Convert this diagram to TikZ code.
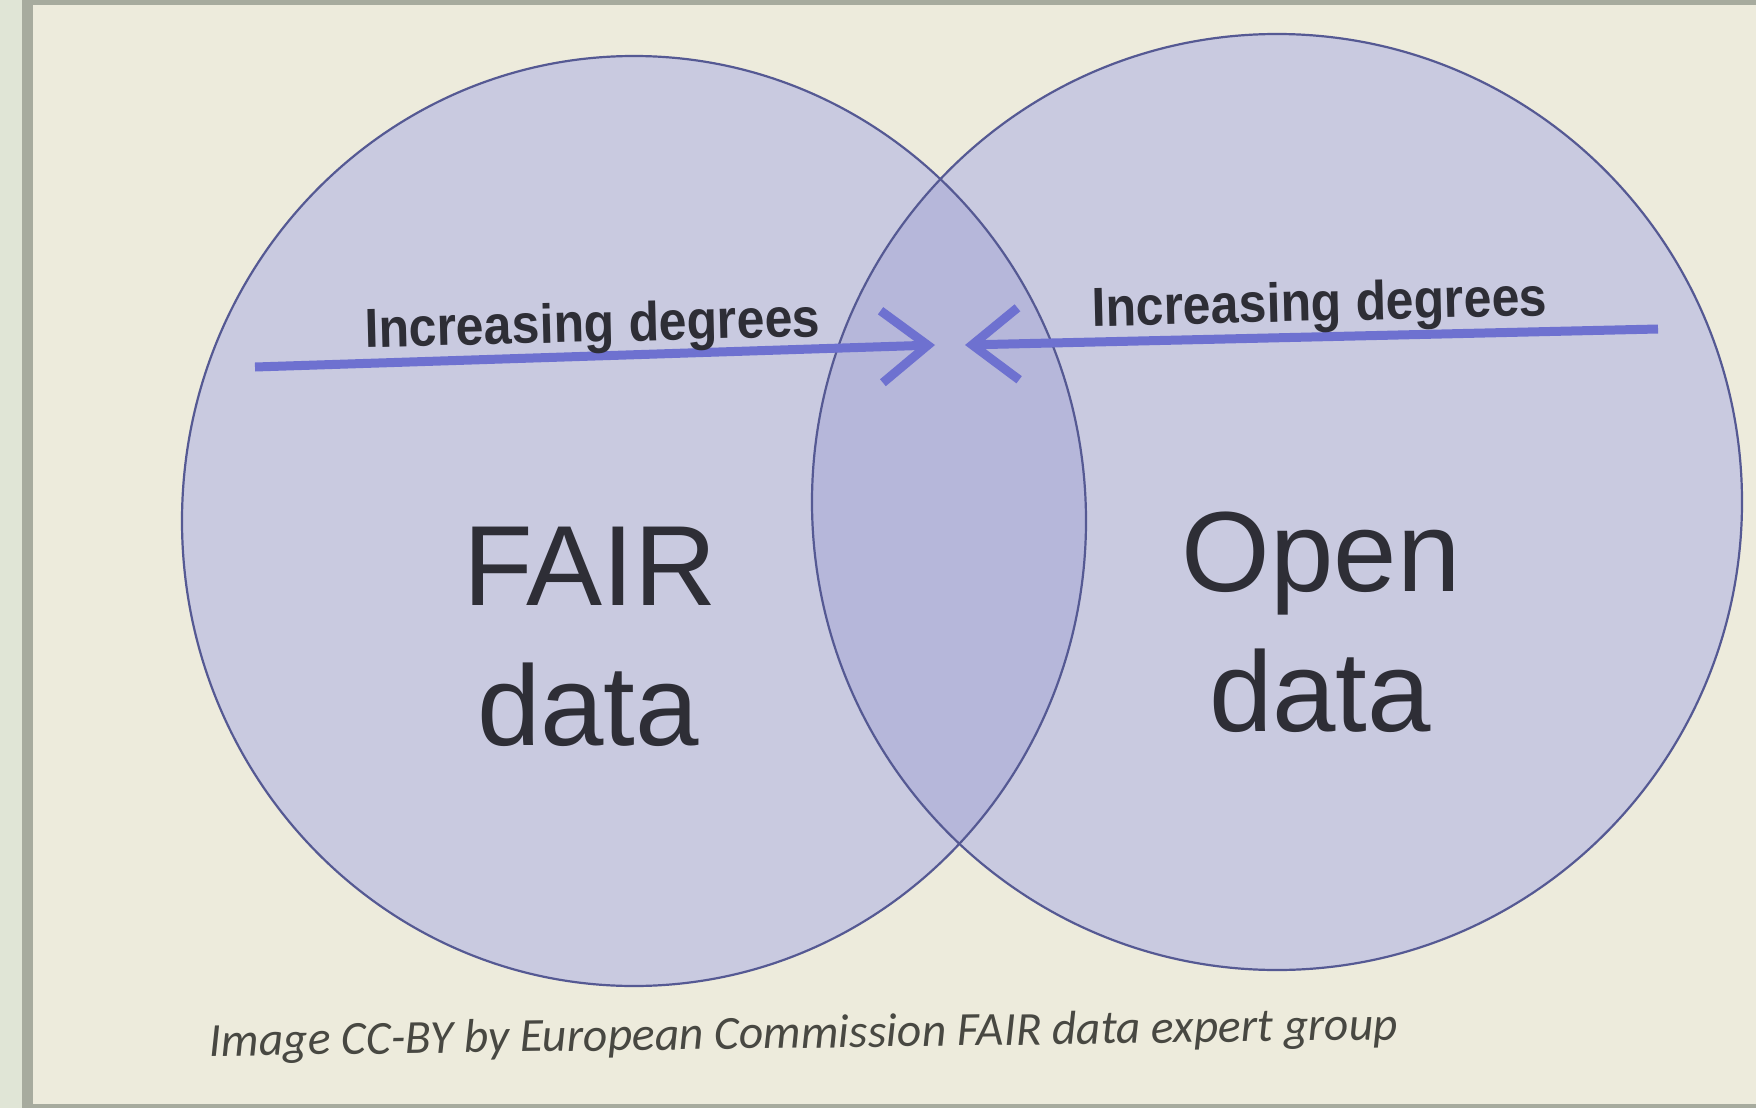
\documentclass[tikz,border=0pt]{standalone}
\usepackage{fontspec}
\setmainfont{Liberation Sans}
\newfontfamily\capfont{Carlito}
\usetikzlibrary{arrows.meta}
\definecolor{bgcream}{HTML}{EDEBDC}
\definecolor{framegray}{HTML}{A7AB9E}
\definecolor{stripl}{HTML}{E0E5D6}
\definecolor{circfill}{HTML}{C9CAE0}
\definecolor{overfill}{HTML}{B6B7DA}
\definecolor{circedge}{HTML}{555993}
\definecolor{arrowblue}{HTML}{6E71D0}
\definecolor{txt}{HTML}{2E2E36}
\definecolor{captxt}{HTML}{484842}
\tikzset{
  ring/.style={draw=circedge, line width=2.2pt},
  degarrow/.style={draw=arrowblue, line width=9pt, -{Straight Barb[length=46pt,width=72pt]}},
  biglabel/.style={text=txt, font=\fontsize{114}{114}\selectfont, anchor=base, inner sep=0pt},
  deglabel/.style={text=txt, font=\fontsize{51}{51}\selectfont\bfseries, anchor=base, inner sep=0pt},
  caplabel/.style={text=captxt, font=\capfont\itshape\fontsize{47.5}{47.5}\selectfont, anchor=base, inner sep=0pt}
}
\begin{document}
\begin{tikzpicture}[x=1pt,y=-1pt]
\useasboundingbox (0,0) rectangle (1756,1108);
\fill[framegray] (0,0) rectangle (1756,1108);
\fill[stripl] (0,0) rectangle (22,1108);
\fill[bgcream] (33,5) rectangle (1756,1104);
\coordinate (cL) at (634,521);
\coordinate (cR) at (1277,502);
\fill[circfill] (cL) ellipse [x radius=452pt, y radius=465pt];
\fill[circfill] (cR) ellipse [x radius=465pt, y radius=468pt];
\begin{scope}
  \clip (cL) ellipse [x radius=452pt, y radius=465pt];
  \fill[overfill] (cR) ellipse [x radius=465pt, y radius=468pt];
\end{scope}
\path[ring] (cL) ellipse [x radius=452pt, y radius=465pt];
\path[ring] (cR) ellipse [x radius=465pt, y radius=468pt];
% arrows
\coordinate (aLs) at (255,367);
\coordinate (aLe) at (935,345);
\coordinate (aRs) at (1658,329);
\coordinate (aRe) at (965,345);
\path[degarrow] (aLs) -- (aLe);
\path[degarrow] (aRs) -- (aRe);
% labels
\node[deglabel, rotate=1.4] (degL) at (593,342) {\scalebox{0.98}[1.08]{Increasing degrees}};
\node[deglabel, rotate=1.4] (degR) at (1320,321) {\scalebox{0.98}[1.08]{Increasing degrees}};
\node[biglabel] (fair) at (590,605) {FAIR};
\node[biglabel] (dataL) at (588,745) {data};
\node[biglabel] (open) at (1321,591) {Open};
\node[biglabel] (dataR) at (1320,731) {data};
\node[caplabel, rotate=0.8] (cap) at (804,1048) {Image CC-BY by European Commission FAIR data expert group};
\end{tikzpicture}
\end{document}
